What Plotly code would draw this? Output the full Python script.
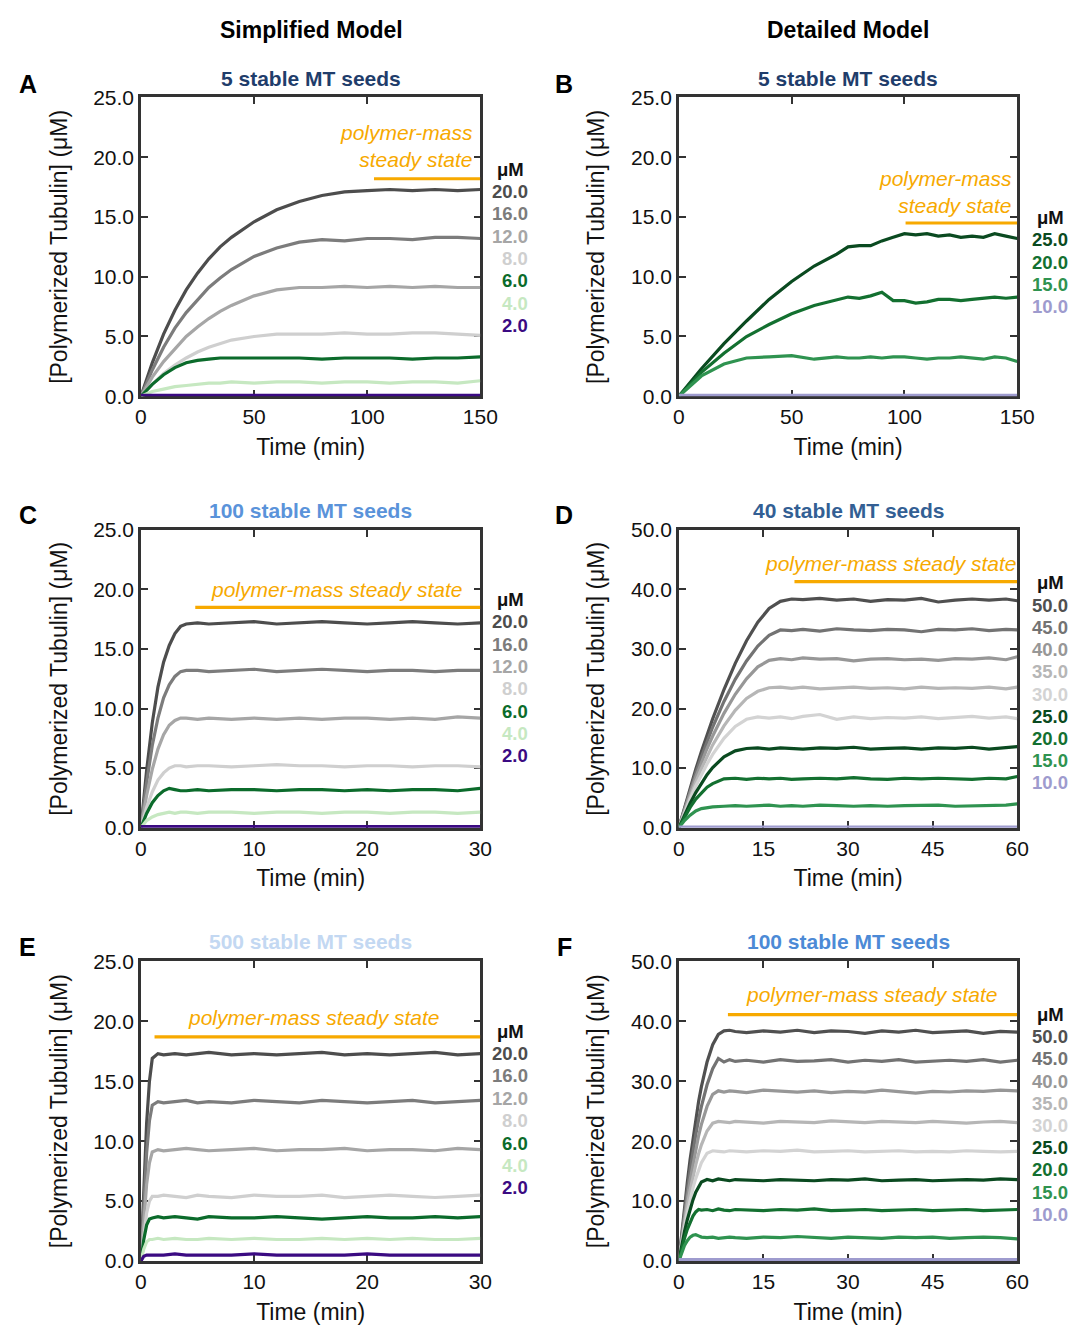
import plotly.graph_objects as go

W, H = 1090, 1333
FONT = "Liberation Sans, Arial, sans-serif"
ORANGE = "#f7a900"
AXC = "#333333"

# ---------------- DATA ----------------
# Panel A: Simplified, 5 seeds (0-150 min)
tA = [0, 5, 10, 15, 20, 25, 30, 35, 40, 50, 60, 70, 80, 90, 100, 110, 120, 130, 140, 150]
A_20 = [0, 2.8, 5.2, 7.2, 8.9, 10.3, 11.5, 12.5, 13.3, 14.6, 15.6, 16.3, 16.8, 17.1, 17.2, 17.3, 17.2, 17.3, 17.2, 17.3]
A_16 = [0, 2.2, 4.1, 5.7, 7.0, 8.1, 9.1, 9.9, 10.6, 11.7, 12.4, 12.9, 13.1, 13.0, 13.2, 13.2, 13.1, 13.3, 13.3, 13.2]
A_12 = [0, 1.6, 2.9, 4.0, 5.0, 5.8, 6.5, 7.1, 7.6, 8.4, 8.9, 9.1, 9.1, 9.2, 9.1, 9.2, 9.1, 9.2, 9.1, 9.1]
A_8 = [0, 1.0, 1.9, 2.6, 3.2, 3.7, 4.1, 4.4, 4.7, 5.0, 5.2, 5.2, 5.2, 5.3, 5.2, 5.2, 5.3, 5.3, 5.2, 5.1]
A_6 = [0, 1.0, 1.8, 2.4, 2.8, 3.0, 3.1, 3.2, 3.2, 3.2, 3.2, 3.2, 3.1, 3.2, 3.2, 3.2, 3.1, 3.2, 3.2, 3.3]
A_4 = [0, 0.4, 0.6, 0.8, 0.9, 1.0, 1.1, 1.1, 1.2, 1.1, 1.2, 1.2, 1.1, 1.2, 1.2, 1.1, 1.2, 1.2, 1.1, 1.3]
A_2 = [0.08] * len(tA)

# Panel B: Detailed, 5 seeds (0-150 min)
tB = [0, 10, 20, 30, 40, 50, 60, 70, 75, 80, 85, 90, 95, 100, 105, 110, 115, 120, 125, 130, 135, 140, 145, 150]
B_25 = [0, 2.3, 4.4, 6.3, 8.1, 9.6, 10.9, 11.9, 12.5, 12.6, 12.6, 13.0, 13.3, 13.6, 13.5, 13.6, 13.4, 13.5, 13.3, 13.4, 13.3, 13.6, 13.4, 13.2]
B_20 = [0, 2.0, 3.6, 5.0, 6.0, 6.9, 7.6, 8.1, 8.3, 8.2, 8.4, 8.7, 8.0, 8.0, 7.8, 7.9, 8.1, 8.1, 8.0, 8.1, 8.2, 8.3, 8.2, 8.3]
B_15 = [0, 1.7, 2.7, 3.2, 3.3, 3.4, 3.1, 3.3, 3.2, 3.2, 3.3, 3.2, 3.3, 3.3, 3.2, 3.1, 3.2, 3.2, 3.3, 3.2, 3.1, 3.3, 3.2, 2.9]
B_10 = [0.08] * len(tB)

# Panel C: Simplified, 100 seeds (0-30 min)
tC = [0, 0.5, 1, 1.5, 2, 2.5, 3, 3.5, 4, 5, 6, 8, 10, 12, 14, 16, 18, 20, 22, 24, 26, 28, 30]
C_20 = [0, 4.8, 8.8, 11.8, 13.9, 15.3, 16.3, 16.9, 17.1, 17.2, 17.1, 17.2, 17.3, 17.1, 17.2, 17.3, 17.2, 17.1, 17.2, 17.3, 17.2, 17.1, 17.2]
C_16 = [0, 3.8, 6.9, 9.2, 10.9, 12.0, 12.7, 13.1, 13.2, 13.2, 13.1, 13.2, 13.3, 13.1, 13.2, 13.3, 13.2, 13.1, 13.2, 13.2, 13.1, 13.2, 13.2]
C_12 = [0, 2.7, 4.9, 6.6, 7.8, 8.6, 9.0, 9.2, 9.2, 9.1, 9.2, 9.1, 9.2, 9.1, 9.2, 9.1, 9.2, 9.2, 9.1, 9.2, 9.1, 9.3, 9.2]
C_8 = [0, 1.7, 3.0, 4.0, 4.6, 5.0, 5.2, 5.2, 5.1, 5.2, 5.2, 5.1, 5.2, 5.3, 5.2, 5.2, 5.1, 5.2, 5.2, 5.1, 5.2, 5.2, 5.1]
C_6 = [0, 1.2, 2.1, 2.7, 3.1, 3.3, 3.2, 3.1, 3.1, 3.2, 3.1, 3.2, 3.2, 3.1, 3.2, 3.2, 3.1, 3.2, 3.1, 3.2, 3.2, 3.1, 3.3]
C_4 = [0, 0.6, 0.9, 1.1, 1.2, 1.3, 1.2, 1.3, 1.3, 1.2, 1.3, 1.3, 1.2, 1.3, 1.3, 1.2, 1.3, 1.3, 1.2, 1.3, 1.3, 1.2, 1.3]
C_2 = [0.1] * len(tC)

# Panel D: Detailed, 40 seeds (0-60 min)
tD = [0, 1, 2, 3, 4, 5, 6, 8, 10, 12, 14, 16, 18, 20, 22, 25, 28, 31, 34, 37, 40, 43, 46, 49, 52, 55, 58, 60]
D_50 = [0, 3.4, 6.7, 9.8, 12.8, 15.6, 18.3, 23.2, 27.6, 31.4, 34.5, 36.8, 38.0, 38.4, 38.3, 38.5, 38.2, 38.4, 38.0, 38.3, 38.2, 38.5, 37.9, 38.2, 38.4, 38.2, 38.4, 38.1]
D_45 = [0, 3.2, 6.3, 9.2, 11.9, 14.5, 16.9, 21.2, 24.9, 28.0, 30.5, 32.3, 33.2, 33.1, 33.3, 33.0, 33.4, 33.2, 33.1, 33.3, 33.2, 32.9, 33.3, 33.2, 33.4, 33.1, 33.3, 33.2]
D_40 = [0, 3.0, 5.8, 8.5, 11.0, 13.3, 15.4, 19.2, 22.4, 25.0, 27.0, 28.1, 28.4, 28.2, 28.5, 28.3, 28.4, 28.0, 28.3, 28.4, 28.2, 28.3, 28.1, 28.4, 28.3, 28.5, 28.2, 28.7]
D_35 = [0, 2.7, 5.3, 7.7, 9.9, 12.0, 13.9, 17.1, 19.7, 21.7, 22.9, 23.5, 23.6, 23.4, 23.6, 23.3, 23.5, 23.6, 23.4, 23.5, 23.3, 23.6, 23.4, 23.5, 23.4, 23.6, 23.3, 23.6]
D_30 = [0, 2.5, 4.8, 7.0, 8.9, 10.7, 12.3, 15.0, 17.0, 18.2, 18.6, 18.4, 18.6, 18.3, 18.7, 19.0, 18.2, 18.6, 18.3, 18.5, 18.4, 18.6, 18.3, 18.5, 18.7, 18.4, 18.6, 18.3]
D_25 = [0, 2.1, 4.1, 5.9, 7.5, 8.9, 10.1, 11.9, 12.9, 13.3, 13.4, 13.2, 13.4, 13.3, 13.2, 13.4, 13.3, 13.5, 13.2, 13.3, 13.4, 13.2, 13.4, 13.3, 13.5, 13.2, 13.4, 13.6]
D_20 = [0, 1.8, 3.4, 4.8, 5.9, 6.8, 7.4, 8.2, 8.3, 8.1, 8.3, 8.2, 8.3, 8.1, 8.2, 8.3, 8.2, 8.4, 8.2, 8.1, 8.3, 8.2, 8.3, 8.2, 8.1, 8.3, 8.2, 8.6]
D_15 = [0, 1.2, 2.1, 2.8, 3.2, 3.4, 3.5, 3.6, 3.7, 3.6, 3.7, 3.8, 3.6, 3.7, 3.6, 3.8, 3.7, 3.6, 3.7, 3.6, 3.7, 3.7, 3.8, 3.6, 3.7, 3.7, 3.8, 4.0]
D_10 = [0.1] * len(tD)

# Panel E: Simplified, 500 seeds (0-30 min)
tE = [0, 0.25, 0.5, 0.75, 1, 1.5, 2, 3, 4, 5, 6, 8, 10, 12, 14, 16, 18, 20, 22, 24, 26, 28, 30]
E_20 = [0, 6.5, 11.5, 15.0, 16.9, 17.3, 17.2, 17.3, 17.2, 17.3, 17.4, 17.2, 17.3, 17.2, 17.3, 17.4, 17.2, 17.3, 17.2, 17.3, 17.4, 17.2, 17.3]
E_16 = [0, 5.0, 9.0, 11.7, 13.0, 13.3, 13.2, 13.3, 13.4, 13.2, 13.3, 13.2, 13.4, 13.3, 13.2, 13.4, 13.3, 13.2, 13.3, 13.4, 13.2, 13.3, 13.4]
E_12 = [0, 3.6, 6.4, 8.2, 9.1, 9.3, 9.2, 9.3, 9.4, 9.3, 9.2, 9.3, 9.4, 9.2, 9.3, 9.3, 9.4, 9.2, 9.3, 9.3, 9.2, 9.4, 9.3]
E_8 = [0, 2.3, 4.0, 5.0, 5.4, 5.4, 5.5, 5.4, 5.3, 5.5, 5.4, 5.3, 5.5, 5.4, 5.4, 5.5, 5.3, 5.4, 5.5, 5.4, 5.3, 5.4, 5.5]
E_6 = [0, 1.8, 3.0, 3.5, 3.6, 3.7, 3.6, 3.7, 3.6, 3.5, 3.7, 3.6, 3.6, 3.7, 3.6, 3.5, 3.6, 3.7, 3.6, 3.6, 3.7, 3.6, 3.7]
E_4 = [0, 1.0, 1.6, 1.8, 1.8, 1.9, 1.8, 1.9, 1.8, 1.8, 1.9, 1.8, 1.9, 1.8, 1.8, 1.9, 1.8, 1.9, 1.8, 1.9, 1.8, 1.8, 1.9]
E_2 = [0, 0.4, 0.5, 0.5, 0.5, 0.5, 0.5, 0.6, 0.5, 0.5, 0.5, 0.5, 0.6, 0.5, 0.5, 0.5, 0.5, 0.6, 0.5, 0.5, 0.5, 0.5, 0.5]

# Panel F: Detailed, 100 seeds (0-60 min)
tF = [0, 0.5, 1, 1.5, 2, 2.5, 3, 3.5, 4, 5, 6, 7, 8, 9, 10, 12, 15, 18, 21, 24, 27, 30, 33, 36, 39, 42, 45, 48, 51, 54, 57, 60]
F_50 = [0, 4.6, 9.0, 13.1, 17.0, 20.5, 23.7, 26.6, 29.1, 33.2, 36.1, 37.8, 38.4, 38.5, 38.3, 38.1, 38.4, 38.2, 38.5, 38.1, 38.4, 38.3, 38.0, 38.4, 38.2, 38.5, 38.1, 38.3, 38.4, 38.0, 38.3, 38.2]
F_45 = [0, 4.2, 8.1, 11.8, 15.2, 18.3, 21.1, 23.6, 25.8, 29.4, 32.1, 33.8, 33.2, 33.6, 33.3, 33.5, 33.2, 33.6, 33.3, 33.4, 33.6, 33.2, 33.5, 33.3, 33.6, 33.2, 33.4, 33.5, 33.3, 33.6, 33.2, 33.5]
F_40 = [0, 3.8, 7.3, 10.5, 13.5, 16.2, 18.7, 20.9, 22.8, 25.8, 27.8, 28.4, 28.2, 28.4, 28.3, 28.1, 28.5, 28.3, 28.2, 28.4, 28.1, 28.3, 28.2, 28.5, 28.3, 28.0, 28.3, 28.2, 28.4, 28.3, 28.5, 28.4]
F_35 = [0, 3.4, 6.5, 9.3, 11.8, 14.1, 16.1, 17.9, 19.4, 21.7, 23.0, 23.3, 23.2, 23.1, 23.3, 23.2, 23.0, 23.3, 23.2, 23.1, 23.4, 23.2, 23.1, 23.3, 23.2, 23.1, 23.3, 23.2, 23.0, 23.2, 23.3, 23.1]
F_30 = [0, 3.0, 5.7, 8.1, 10.3, 12.2, 13.8, 15.2, 16.4, 18.0, 18.4, 18.3, 18.2, 18.4, 18.3, 18.2, 18.4, 18.3, 18.5, 18.2, 18.3, 18.4, 18.2, 18.3, 18.4, 18.2, 18.3, 18.2, 18.4, 18.3, 18.2, 18.3]
F_25 = [0, 2.6, 4.9, 6.9, 8.7, 10.2, 11.5, 12.5, 13.2, 13.6, 13.4, 13.7, 13.5, 13.4, 13.6, 13.5, 13.4, 13.6, 13.5, 13.4, 13.6, 13.5, 13.7, 13.4, 13.5, 13.6, 13.4, 13.5, 13.6, 13.5, 13.7, 13.6]
F_20 = [0, 2.0, 3.8, 5.3, 6.5, 7.5, 8.2, 8.6, 8.5, 8.6, 8.4, 8.7, 8.5, 8.4, 8.6, 8.5, 8.4, 8.6, 8.5, 8.7, 8.4, 8.5, 8.6, 8.4, 8.5, 8.6, 8.4, 8.5, 8.6, 8.4, 8.5, 8.6]
F_15 = [0, 1.4, 2.6, 3.4, 4.0, 4.3, 4.4, 4.2, 4.0, 3.9, 4.0, 3.8, 3.9, 4.0, 3.9, 3.8, 4.0, 3.9, 4.1, 3.9, 3.8, 4.0, 3.9, 3.8, 4.0, 3.9, 4.0, 3.8, 3.9, 4.0, 3.9, 3.7]
F_10 = [0.25] * len(tF)

# Legend labels (µM)
simp_labels = ["20.0", "16.0", "12.0", "8.0", "6.0", "4.0", "2.0"]
det_labels_B = ["25.0", "20.0", "15.0", "10.0"]
det_labels = ["50.0", "45.0", "40.0", "35.0", "30.0", "25.0", "20.0", "15.0", "10.0"]

# Steady-state bars: [start time, end time, level]
ss_A = [103, 150, 18.2]
ss_B = [100.5, 150, 14.5]
ss_C = [4.8, 30, 18.5]
ss_D = [20.5, 60, 41.3]
ss_E = [1.2, 30, 18.7]
ss_F = [8.7, 60, 41.1]

panel_titles = ["5 stable MT seeds", "5 stable MT seeds", "100 stable MT seeds",
                "40 stable MT seeds", "500 stable MT seeds", "100 stable MT seeds"]

# ---------------- STYLE ----------------
simp_colors = ["#4d4d4d", "#7c7c7c", "#a6a6a6", "#cfcfcf", "#0b6b2b", "#c6e8c1", "#3b0a82"]
det_colors = ["#505050", "#737373", "#979797", "#b6b6b6", "#d3d3d3", "#0a4a20", "#137030", "#2f9350", "#9e9bce"]
det_colors_B = ["#0a4a20", "#137030", "#2f9350", "#9e9bce"]
title_colors = ["#1f3d6b", "#1f3d6b", "#5a93da", "#335f94", "#c3d8f2", "#4c8ad6"]

def px(x):
    return x / W

def py(y):
    return 1 - y / H

col_dom = [[px(138), px(485)], [px(688), px(1034)]]
row_dom = [[py(391), py(87)], [py(830), py(527)], [py(1271), py(966)]]

panels = [
    dict(t=tA, ys=[A_20, A_16, A_12, A_8, A_6, A_4, A_2], cols=simp_colors, labels=simp_labels,
         xr=[0, 150], xt=[0, 50, 100, 150], yr=[0, 25], yt=[0, 5, 10, 15, 20, 25], ss=ss_A),
    dict(t=tB, ys=[B_25, B_20, B_15, B_10], cols=det_colors_B, labels=det_labels_B,
         xr=[0, 150], xt=[0, 50, 100, 150], yr=[0, 25], yt=[0, 5, 10, 15, 20, 25], ss=ss_B),
    dict(t=tC, ys=[C_20, C_16, C_12, C_8, C_6, C_4, C_2], cols=simp_colors, labels=simp_labels,
         xr=[0, 30], xt=[0, 10, 20, 30], yr=[0, 25], yt=[0, 5, 10, 15, 20, 25], ss=ss_C),
    dict(t=tD, ys=[D_50, D_45, D_40, D_35, D_30, D_25, D_20, D_15, D_10], cols=det_colors, labels=det_labels,
         xr=[0, 60], xt=[0, 15, 30, 45, 60], yr=[0, 50], yt=[0, 10, 20, 30, 40, 50], ss=ss_D),
    dict(t=tE, ys=[E_20, E_16, E_12, E_8, E_6, E_4, E_2], cols=simp_colors, labels=simp_labels,
         xr=[0, 30], xt=[0, 10, 20, 30], yr=[0, 25], yt=[0, 5, 10, 15, 20, 25], ss=ss_E),
    dict(t=tF, ys=[F_50, F_45, F_40, F_35, F_30, F_25, F_20, F_15, F_10], cols=det_colors, labels=det_labels,
         xr=[0, 60], xt=[0, 15, 30, 45, 60], yr=[0, 50], yt=[0, 10, 20, 30, 40, 50], ss=ss_F),
]

fig = go.Figure()
annotations = []
layout = {}

# legend pixel positions (top 'µM' y, right x, step)
leg_pos = [(160, 536, 22.7), (209, 1088, 22.7), (598, 536, 22.7),
           (581, 1088, 22.6), (1037, 536, 22.8), (1020, 1088, 22.6)]
title_y = [68, 68, 507, 507, 946, 946]
letters = ["A", "B", "C", "D", "E", "F"]

for i, p in enumerate(panels):
    r, c = divmod(i, 2)
    xa = "xaxis" if i == 0 else f"xaxis{i+1}"
    ya = "yaxis" if i == 0 else f"yaxis{i+1}"
    xref = "x" if i == 0 else f"x{i+1}"
    yref = "y" if i == 0 else f"y{i+1}"

    for yv, col in zip(p["ys"], p["cols"]):
        fig.add_trace(go.Scatter(x=p["t"], y=yv, mode="lines", xaxis=xref, yaxis=yref,
                                 line=dict(color=col, width=3.2), showlegend=False,
                                 hoverinfo="skip"))
    s = p["ss"]
    fig.add_trace(go.Scatter(x=[s[0], s[1]], y=[s[2], s[2]], mode="lines", xaxis=xref, yaxis=yref,
                             line=dict(color=ORANGE, width=3.2), showlegend=False, hoverinfo="skip"))

    common = dict(ticks="inside", ticklen=7, tickwidth=2, tickcolor=AXC, showline=True,
                  linecolor=AXC, linewidth=2.5, mirror="ticks", showgrid=False, zeroline=False,
                  tickfont=dict(size=21, family=FONT, color="#111"), layer="below traces")
    layout[xa] = dict(domain=col_dom[c], range=p["xr"], tickvals=p["xt"], anchor=yref,
                      title=dict(text="Time (min)", font=dict(size=23, family=FONT, color="#111"), standoff=12),
                      **common)
    layout[ya] = dict(domain=row_dom[r], range=p["yr"], tickvals=p["yt"], tickformat=".1f", anchor=xref,
                      title=dict(text="[Polymerized Tubulin] (μM)", font=dict(size=23, family=FONT, color="#111"), standoff=20),
                      **common)

    # panel title
    cx = (col_dom[c][0] + col_dom[c][1]) / 2
    annotations.append(dict(text=f"<b>{panel_titles[i]}</b>", x=cx, y=py(title_y[i]), xref="paper", yref="paper",
                            showarrow=False, xanchor="center", yanchor="middle",
                            font=dict(size=21, family=FONT, color=title_colors[i])))
    # panel letter
    annotations.append(dict(text=f"<b>{letters[i]}</b>", x=px(22 + 549 * c), y=py(title_y[i] + 5), xref="paper", yref="paper",
                            showarrow=False, xanchor="center", yanchor="middle",
                            font=dict(size=25, family=FONT, color="#000")))
    # legend
    ly, lx, step = leg_pos[i]
    annotations.append(dict(text="<b>μM</b>", x=px(lx - 4), y=py(ly), xref="paper", yref="paper",
                            showarrow=False, xanchor="right", yanchor="middle",
                            font=dict(size=18.5, family=FONT, color="#111")))
    for k, (lab, col) in enumerate(zip(p["labels"], p["cols"])):
        annotations.append(dict(text=f"<b>{lab}</b>", x=px(lx), y=py(ly + step * (k + 1)), xref="paper", yref="paper",
                                showarrow=False, xanchor="right", yanchor="middle",
                                font=dict(size=18.5, family=FONT, color=col)))

# steady-state text (data coordinates)
ssfont = dict(size=21, family=FONT, color=ORANGE)
annotations += [
    dict(text="<i>polymer-mass</i><br><i>steady state</i>", x=147.5, y=20.9, xref="x", yref="y", showarrow=False,
         xanchor="right", yanchor="middle", align="right", font=ssfont),
    dict(text="<i>polymer-mass</i><br><i>steady state</i>", x=148.5, y=17.1, xref="x2", yref="y2", showarrow=False,
         xanchor="right", yanchor="middle", align="right", font=ssfont),
    dict(text="<i>polymer-mass steady state</i>", x=17.3, y=20.0, xref="x3", yref="y3", showarrow=False,
         xanchor="center", yanchor="middle", font=ssfont),
    dict(text="<i>polymer-mass steady state</i>", x=37.6, y=44.4, xref="x4", yref="y4", showarrow=False,
         xanchor="center", yanchor="middle", font=ssfont),
    dict(text="<i>polymer-mass steady state</i>", x=15.3, y=20.3, xref="x5", yref="y5", showarrow=False,
         xanchor="center", yanchor="middle", font=ssfont),
    dict(text="<i>polymer-mass steady state</i>", x=34.2, y=44.4, xref="x6", yref="y6", showarrow=False,
         xanchor="center", yanchor="middle", font=ssfont),
]

# column headers
annotations += [
    dict(text="<b>Simplified Model</b>", x=px(312), y=py(18), xref="paper", yref="paper", showarrow=False,
         xanchor="center", yanchor="middle", font=dict(size=23, family=FONT, color="#000")),
    dict(text="<b>Detailed Model</b>", x=px(861), y=py(18), xref="paper", yref="paper", showarrow=False,
         xanchor="center", yanchor="middle", font=dict(size=23, family=FONT, color="#000")),
]

fig.update_layout(width=W, height=H, margin=dict(l=0, r=0, t=0, b=0), plot_bgcolor="white",
                  paper_bgcolor="white", annotations=annotations, **layout)

fig.write_html("out.html")
